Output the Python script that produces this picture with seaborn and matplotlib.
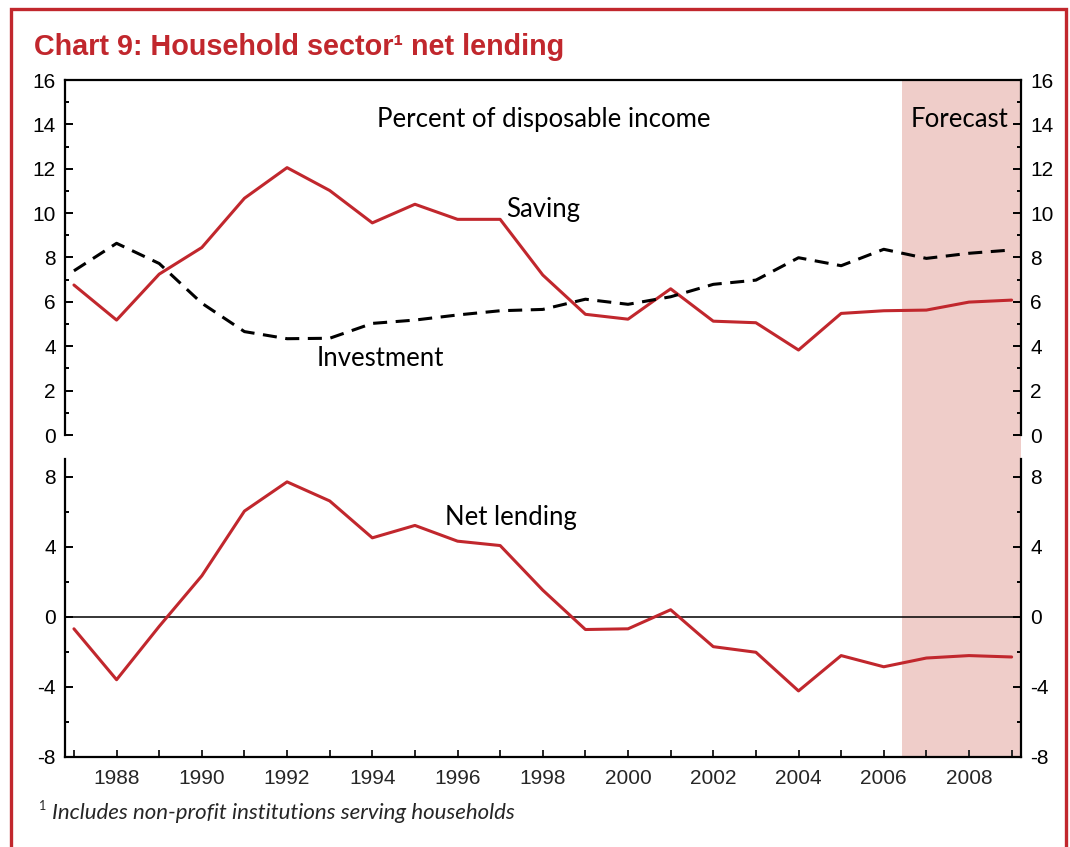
import matplotlib
matplotlib.use("Agg")
import matplotlib.pyplot as plt
import matplotlib.transforms as mtransforms
from matplotlib.patches import Rectangle
from matplotlib.ticker import MultipleLocator, FixedLocator
import seaborn as sns
import pandas as pd

# ---------------- data ----------------
years = list(range(1987, 2010))
saving = [6.76, 5.18, 7.25, 8.45, 10.67, 12.05, 11.02, 9.56, 10.40, 9.72, 9.72, 7.21,
          5.44, 5.22, 6.59, 5.13, 5.06, 3.83, 5.48, 5.60, 5.63, 5.99, 6.08]
investment = [7.40, 8.64, 7.73, 5.94, 4.66, 4.34, 4.36, 5.03, 5.18, 5.41, 5.60, 5.66,
              6.12, 5.89, 6.23, 6.79, 6.98, 7.99, 7.63, 8.37, 7.96, 8.19, 8.34]
net_lending = [-0.69, -3.60, -0.55, 2.34, 6.04, 7.71, 6.62, 4.51, 5.22, 4.32, 4.07, 1.52,
               -0.73, -0.69, 0.40, -1.71, -2.03, -4.24, -2.22, -2.86, -2.36, -2.22, -2.30]
forecast_start = 2006.42
x_tick_years = list(range(1988, 2010, 2))
title_text = "Chart 9: Household sector\u00b9 net lending"
footnote_text = "Includes non-profit institutions serving households"

df = pd.DataFrame({"year": years, "Saving": saving, "Investment": investment,
                   "Net lending": net_lending})

# ---------------- style ----------------
sns.set_style("ticks")
plt.rcParams["font.family"] = ["Liberation Sans", "DejaVu Sans"]
plt.rcParams["axes.unicode_minus"] = False

RED = "#c1272d"
SHADE = "#efcdc9"
W, H = 1070, 847
fig = plt.figure(figsize=(W / 100, H / 100), dpi=100)
fig.patch.set_facecolor("white")

left = 65 / W
width = (1021 - 65) / W
ax1 = fig.add_axes([left, 1 - 435 / H, width, (435 - 80) / H])
ax2 = fig.add_axes([left, 1 - 756.7 / H, width, (756.7 - 459.3) / H])

xlim = (1986.79, 2009.22)
for ax in (ax1, ax2):
    ax.set_facecolor("none")
    ax.set_xlim(*xlim)

# ---------------- lines ----------------
sns.lineplot(data=df, x="year", y="Saving", ax=ax1, color=RED, linewidth=2.2, zorder=3)
sns.lineplot(data=df, x="year", y="Investment", ax=ax1, color="black", linewidth=2.2,
             linestyle=(0, (4.6, 2.8)), zorder=3)
ax2.axhline(0, color="black", linewidth=1.1, zorder=2)
sns.lineplot(data=df, x="year", y="Net lending", ax=ax2, color=RED, linewidth=2.2, zorder=3)

# ---------------- axes cosmetics ----------------
ax1.set_ylim(0, 16)
ax2.set_ylim(-8, 9.0)
ax1.yaxis.set_major_locator(MultipleLocator(2))
ax1.yaxis.set_minor_locator(MultipleLocator(1))
ax2.yaxis.set_major_locator(FixedLocator([-8, -4, 0, 4, 8]))
ax2.yaxis.set_minor_locator(FixedLocator([-6, -2, 2, 6]))
ax2.xaxis.set_major_locator(FixedLocator(x_tick_years))
ax2.xaxis.set_minor_locator(FixedLocator([y for y in years if y not in x_tick_years]))
ax2.set_xticklabels([str(y) for y in x_tick_years])

for ax in (ax1, ax2):
    ax.set_xlabel("")
    ax.set_ylabel("")
    for s in ax.spines.values():
        s.set_linewidth(1.6)
        s.set_color("black")
    ax.tick_params(axis="y", which="both", direction="in", left=True, right=True,
                   labelleft=True, labelright=True, width=1.4, colors="black",
                   labelsize=15, pad=6.5)
    ax.tick_params(axis="y", which="major", length=5.5)
    ax.tick_params(axis="y", which="minor", length=3.2)

ax1.spines["bottom"].set_visible(False)
ax1.tick_params(axis="x", which="both", bottom=False, labelbottom=False, top=False)
ax2.spines["top"].set_visible(False)
ax2.tick_params(axis="x", which="both", direction="in", bottom=True, top=False,
                length=5, width=1.4, labelsize=15, pad=9)

# ---------------- forecast shading ----------------
trans = mtransforms.blended_transform_factory(ax2.transData, fig.transFigure)
y0 = 1 - 756.7 / H
y1 = 1 - 80 / H
fig.patches.append(Rectangle((forecast_start, y0), xlim[1] - forecast_start, y1 - y0,
                             transform=trans, facecolor=SHADE, edgecolor="none",
                             zorder=-5))

# ---------------- annotations ----------------
afont = dict(family=["Lato", "DejaVu Sans"], fontsize=18.5, color="black")
ax1.text(1998.03, 14.2, "Percent of disposable income", ha="center", va="center", **afont)
ax1.text(2007.77, 14.2, "Forecast", ha="center", va="center", **afont)
ax1.text(1998.0, 10.18, "Saving", ha="center", va="center", **afont)
ax1.text(1994.18, 3.47, "Investment", ha="center", va="center", **afont)
ax2.text(1997.25, 5.7, "Net lending", ha="center", va="center", **afont)

# ---------------- title, footnote, frame ----------------
fig.text(34 / W, 1 - 55 / H, title_text, ha="left", va="baseline", color=RED,
         fontsize=20.7, fontweight="bold",
         family=["Liberation Sans Narrow", "Liberation Sans", "DejaVu Sans"])
fig.text(39 / W, 1 - 812 / H, "1", ha="left", va="bottom", fontsize=9,
         family=["Lato", "DejaVu Sans"])
fig.text(52 / W, 1 - 813 / H, footnote_text, ha="left", va="center", fontsize=16,
         style="italic", family=["Lato", "DejaVu Sans"])

fig.patches.append(Rectangle((10.7 / W, -0.05), (1066 - 10.7) / W, 1.05 - 8.7 / H,
                             transform=fig.transFigure, facecolor="none",
                             edgecolor=RED, linewidth=2.4, zorder=10))

fig.savefig("out.png", dpi=100, facecolor="white")
